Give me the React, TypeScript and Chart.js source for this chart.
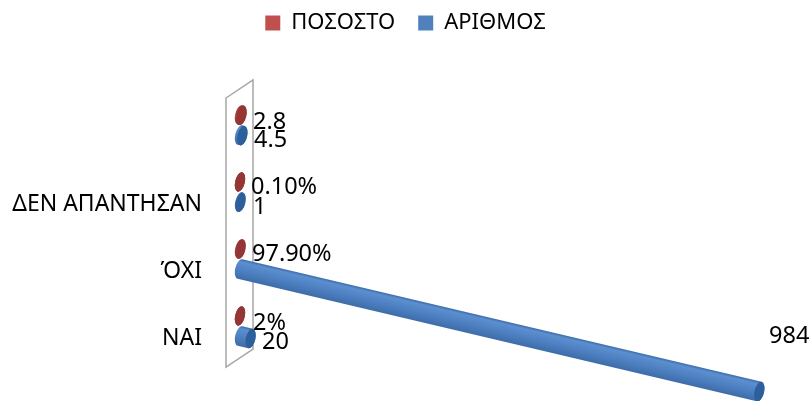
import React, { useEffect, useRef } from "react";
import { Chart, registerables } from "chart.js";

Chart.register(...registerables);

const categories = ["ΝΑΙ", "ΌΧΙ", "ΔΕΝ ΑΠΑΝΤΗΣΑΝ", ""];
const shareValues = [0.02, 0.979, 0.001, 2.8];
const countValues = [20, 984, 1, 4.5];
const shareLabels = ["2%", "97.90%", "0.10%", "2.8"];
const countLabels = ["20", "984", "1", "4.5"];

const FONT = "'Noto Sans', sans-serif";
const TEXT_SIZE = 23.5;
const TILT = 0.236;
const RX = 4.8;
const RY = 10;

// Manual data label placement, [dx from the bar base, dy from the bar centre]
const shareLabelShift = [[13, 7], [12, 5], [11, 5], [13, 7]];
const countLabelShift = [[22, 6], [529, 67], [13, 5], [14, 5]];

type Tone = { edge: string; mid: string; light: string; cap: string };
const RED: Tone = { edge: "#8c3230", mid: "#a33c3a", light: "#a84240", cap: "#943634" };
const BLUE: Tone = { edge: "#3d6ca8", mid: "#5b8fd0", light: "#4c7ebf", cap: "#2c5f9c" };

function drawCylinder(ctx: CanvasRenderingContext2D, base: number, tip: number, cy: number, tone: Tone) {
  const angle = Math.atan(TILT);
  const length = (tip - base) / Math.cos(angle);
  ctx.save();
  ctx.translate(base, cy);
  ctx.rotate(angle);
  const shade = ctx.createLinearGradient(0, -RY, 0, RY);
  shade.addColorStop(0, tone.edge);
  shade.addColorStop(0.14, tone.mid);
  shade.addColorStop(0.6, tone.light);
  shade.addColorStop(1, tone.edge);
  ctx.fillStyle = shade;
  ctx.beginPath();
  ctx.moveTo(0, -RY);
  ctx.lineTo(length, -RY);
  ctx.ellipse(length, 0, RX, RY, 0, -Math.PI / 2, Math.PI / 2);
  ctx.lineTo(0, RY);
  ctx.ellipse(0, 0, RX, RY, 0, Math.PI / 2, (3 * Math.PI) / 2);
  ctx.closePath();
  ctx.fill();
  ctx.fillStyle = tone.cap;
  ctx.beginPath();
  ctx.ellipse(length, 0, RX, RY, 0, 0, Math.PI * 2);
  ctx.fill();
  ctx.restore();
}

const cylinderBars = {
  id: "cylinderBars",
  beforeDatasetsDraw(chart: any) {
    // Slanted back wall behind the bars
    const { ctx, chartArea } = chart;
    const left = chartArea.left - 14;
    const right = chartArea.left + 13;
    ctx.save();
    ctx.strokeStyle = "#a6a6a6";
    ctx.lineWidth = 1.5;
    ctx.beginPath();
    ctx.moveTo(left, chartArea.top + 6.5);
    ctx.lineTo(right, chartArea.top - 11.5);
    ctx.lineTo(right, chartArea.bottom - 10.5);
    ctx.lineTo(left, chartArea.bottom + 7.5);
    ctx.closePath();
    ctx.stroke();
    ctx.restore();
  },
  beforeDatasetDraw() {
    return false;
  },
  afterDatasetsDraw(chart: any) {
    const { ctx } = chart;
    const tones = [RED, BLUE];
    const texts = [shareLabels, countLabels];
    const shifts = [shareLabelShift, countLabelShift];
    [0, 1].forEach((d) => {
      chart.getDatasetMeta(d).data.forEach((bar: any) => {
        drawCylinder(ctx, bar.base, bar.x, bar.y, tones[d]);
      });
    });
    ctx.save();
    ctx.fillStyle = "#000";
    ctx.font = `${TEXT_SIZE}px ${FONT}`;
    ctx.textBaseline = "middle";
    [0, 1].forEach((d) => {
      chart.getDatasetMeta(d).data.forEach((bar: any, i: number) => {
        const [dx, dy] = shifts[d][i];
        ctx.fillText(texts[d][i], bar.base + dx, bar.y + dy);
      });
    });
    ctx.restore();
  },
};

export default function App() {
  const ref = useRef<HTMLCanvasElement>(null);
  useEffect(() => {
    const chart = new Chart(ref.current!, {
      type: "bar",
      data: {
        labels: categories,
        datasets: [
          { label: "ΠΟΣΟΣΤΟ", data: shareValues, backgroundColor: "#c0504d" },
          { label: "ΑΡΙΘΜΟΣ", data: countValues, backgroundColor: "#4f81bd" },
        ],
      },
      options: {
        indexAxis: "y",
        responsive: false,
        animation: false,
        categoryPercentage: 0.6,
        barPercentage: 1,
        layout: { padding: { top: -11, right: 0, bottom: 41.5, left: 0 } },
        plugins: {
          tooltip: { enabled: false },
          legend: {
            position: "top",
            labels: {
              boxWidth: 15,
              boxHeight: 15,
              padding: 23,
              color: "#000",
              font: { family: FONT, size: 22 },
            },
          },
        },
        scales: {
          x: {
            position: "top",
            min: 0,
            max: 1082,
            grid: { display: false },
            border: { display: false },
            ticks: { display: false },
            afterFit: (s: any) => {
              s.height = 47.5;
            },
          },
          y: {
            reverse: true,
            // The tick length only spaces the labels away from the wall; no marks are drawn
            grid: { display: false, drawTicks: true, tickLength: 38 },
            border: { display: false },
            afterFit: (s: any) => {
              s.width = 240;
            },
            ticks: {
              color: "#000",
              font: { family: FONT, size: 23 },
              padding: 0,
              labelOffset: 12.5,
              autoSkip: false,
            },
          },
        },
      },
      plugins: [cylinderBars],
    } as any);
    return () => chart.destroy();
  }, []);
  return (
    <div style={{ position: "absolute", left: 0, top: 0, width: 811, height: 401, background: "#fff" }}>
      <canvas ref={ref} width={811} height={401} style={{ display: "block" }} />
    </div>
  );
}
